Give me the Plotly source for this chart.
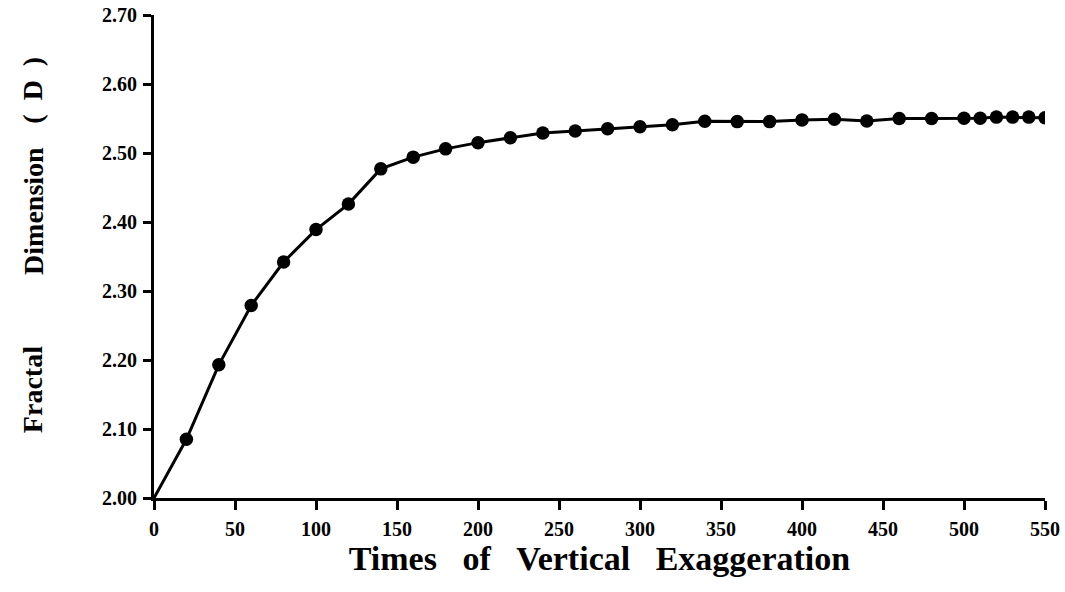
import plotly.graph_objects as go

# Vertical exaggeration factor and the resulting fractal dimension
exaggeration = [0, 20, 40, 60, 80, 100, 120, 140, 160, 180, 200, 220, 240, 260, 280,
                300, 320, 340, 360, 380, 400, 420, 440, 460, 480, 500, 510, 520, 530,
                540, 550]
fractal_dim = [2.000, 2.085, 2.193, 2.279, 2.342, 2.389, 2.426, 2.477, 2.494, 2.506,
               2.515, 2.522, 2.529, 2.532, 2.535, 2.538, 2.541, 2.546, 2.5455, 2.5455,
               2.548, 2.549, 2.5465, 2.550, 2.550, 2.5505, 2.5505, 2.552, 2.552, 2.552,
               2.551]

x_ticks = [0, 50, 100, 150, 200, 250, 300, 350, 400, 450, 500, 550]
y_ticks = [2.00, 2.10, 2.20, 2.30, 2.40, 2.50, 2.60, 2.70]

# y-axis title words, spread out along the axis (paper coordinates)
y_title_words = ["Fractal", "Dimension", "(&nbsp;&nbsp;D&nbsp;&nbsp;)"]
y_title_pos = [0.225, 0.594, 0.845]

tick_font = dict(family="Liberation Serif", size=20, color="black")
title_font = dict(family="Liberation Serif", size=34, color="black")
ytitle_font = dict(family="Liberation Serif", size=28, color="black")

SP = "&nbsp;" * 3

fig = go.Figure()

# connecting line starts at the origin
fig.add_trace(go.Scatter(
    x=exaggeration, y=fractal_dim, mode="lines",
    line=dict(color="black", width=3),
    hoverinfo="skip", showlegend=False,
))
# measured points (the origin carries no dot)
fig.add_trace(go.Scatter(
    x=exaggeration[1:], y=fractal_dim[1:], mode="markers",
    marker=dict(color="black", size=13.5),
    showlegend=False,
))

for word, pos in zip(y_title_words, y_title_pos):
    fig.add_annotation(
        text=f"<b>{word}</b>", xref="paper", yref="paper",
        x=-0.136, y=pos, xanchor="center", yanchor="middle",
        textangle=-90, showarrow=False, font=ytitle_font,
    )

fig.update_layout(
    width=1065, height=592,
    margin=dict(l=154, r=20, t=15, b=94),
    paper_bgcolor="white", plot_bgcolor="white",
    xaxis=dict(
        range=[0, 550], tickvals=x_ticks, ticktext=[f"<b>{v}</b>" for v in x_ticks],
        showgrid=False, zeroline=False, automargin=False,
        showline=True, linecolor="black", linewidth=3,
        ticks="outside", ticklen=9, tickwidth=2.5, tickcolor="black",
        tickfont=tick_font, ticklabelstandoff=2,
        title=dict(text=f"<b>Times{SP}of{SP}Vertical{SP}Exaggeration</b>",
                   font=title_font, standoff=0),
    ),
    yaxis=dict(
        range=[2.00, 2.70], tickvals=y_ticks,
        ticktext=[f"<b>{v:.2f}</b>" for v in y_ticks],
        showgrid=False, zeroline=False, automargin=False,
        showline=True, linecolor="black", linewidth=3,
        ticks="outside", ticklen=8, tickwidth=2.5, tickcolor="black",
        tickfont=tick_font, ticklabelstandoff=2,
    ),
)

fig.write_html("out.html")
